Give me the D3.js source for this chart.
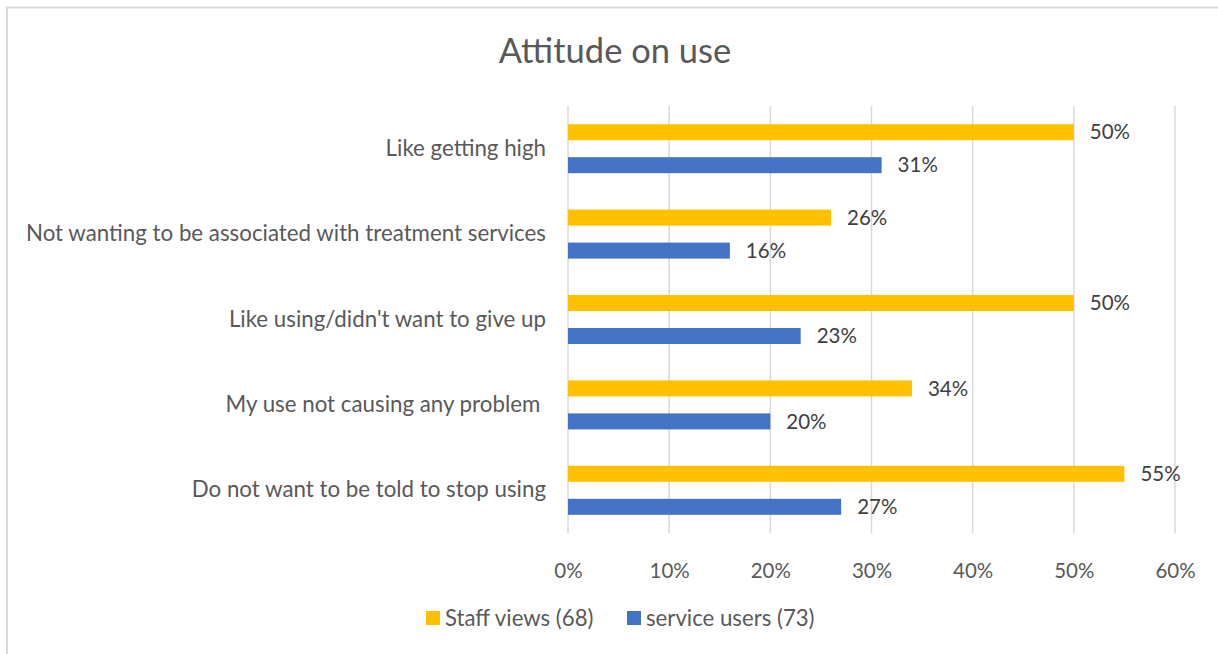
<!DOCTYPE html>
<html>
<head>
<meta charset="utf-8">
<script src="https://cdn.jsdelivr.net/npm/d3@7"></script>
<style>
  html, body { margin: 0; padding: 0; background: #fff; }
  svg { display: block; font-family: Lato, "Open Sans", sans-serif; }
</style>
</head>
<body>
<div id="chart"></div>
<script>
// chart data
const categories = [
    "Like getting high",
    "Not wanting to be associated with treatment services",
    "Like using/didn't want to give up",
    "My use not causing any problem ",
    "Do not want to be told to stop using"
];
const seriesNames = ["Staff views (68)", "service users (73)"];
const staffViews = [0.50, 0.26, 0.50, 0.34, 0.55];
const serviceUsers = [0.31, 0.16, 0.23, 0.20, 0.27];
const xTicks = [0, 0.1, 0.2, 0.3, 0.4, 0.5, 0.6];
const colors = ["#FFC000", "#4472C4"];

const width = 1218, height = 654;
const margin = { top: 106, left: 568, right: 43, bottom: 121 };

const svg = d3.select("#chart").append("svg")
    .attr("width", width)
    .attr("height", height);

// chart border (only left/top edges visible in the frame)
svg.append("rect")
    .attr("x", 7).attr("y", 7.5)
    .attr("width", 1240).attr("height", 700)
    .attr("fill", "none")
    .attr("stroke", "#d9d9d9")
    .attr("stroke-width", 2);

// title
svg.append("text")
    .attr("x", 615).attr("y", 63)
    .attr("text-anchor", "middle")
    .attr("fill", "#595959")
    .style("font-size", "34.5px")
    .text("Attitude on use");

let x = d3.scaleLinear()
    .domain([0, 0.6])
    .range([margin.left, width - margin.right]);

let y = d3.scaleBand()
    .domain(categories)
    .range([margin.top, height - margin.bottom]);

// two bars per category, with a gap between them
let sub = d3.scaleBand()
    .domain(seriesNames)
    .range([0, y.bandwidth()])
    .paddingInner(17 / 33)
    .paddingOuter((y.bandwidth() - 66) / 66 + 17 / 66);

// gridlines
svg.append("g")
    .selectAll("line")
    .data(xTicks)
    .enter().append("line")
    .attr("x1", d => x(d)).attr("x2", d => x(d))
    .attr("y1", margin.top).attr("y2", height - margin.bottom)
    .attr("stroke", "#d9d9d9")
    .attr("stroke-width", 1.5);

// x axis tick labels
let xAxis = d3.axisBottom(x)
    .tickValues(xTicks)
    .tickFormat(d3.format(".0%"))
    .tickSize(0)
    .tickPadding(0);

let gx = svg.append("g")
    .attr("transform", "translate(0," + (height - margin.bottom + 38) + ")")
    .call(xAxis);
gx.select(".domain").remove();
gx.selectAll("text")
    .attr("fill", "#595959")
    .attr("dy", "0.35em")
    .style("font-family", "Lato, sans-serif")
    .style("font-size", "20.5px");

// category labels (keep the trailing space of one label)
let yAxis = d3.axisLeft(y).tickSize(0).tickPadding(22);
let gy = svg.append("g")
    .attr("transform", "translate(" + margin.left + ",0)")
    .call(yAxis);
gy.select(".domain").remove();
gy.selectAll("text")
    .attr("fill", "#595959")
    .style("white-space", "pre")
    .style("font-family", "Lato, sans-serif")
    .style("font-size", "22.3px");

// bars
let rows = categories.map(function (c, i) {
    return { category: c, values: [staffViews[i], serviceUsers[i]] };
});

let group = svg.append("g")
    .selectAll("g")
    .data(rows)
    .enter().append("g")
    .attr("transform", d => "translate(0," + y(d.category) + ")");

let bar = group.selectAll("g")
    .data(d => d.values.map(function (v, j) { return { name: seriesNames[j], value: v, idx: j }; }))
    .enter().append("g");

bar.append("rect")
    .attr("x", x(0))
    .attr("y", d => sub(d.name))
    .attr("width", d => x(d.value) - x(0))
    .attr("height", sub.bandwidth())
    .attr("fill", d => colors[d.idx]);

bar.append("text")
    .attr("x", d => x(d.value) + 16)
    .attr("y", d => sub(d.name) + sub.bandwidth() / 2)
    .attr("dy", "0.35em")
    .attr("fill", "#404040")
    .style("font-size", "20.5px")
    .text(d => d3.format(".0%")(d.value));

// legend
let legend = svg.append("g")
    .selectAll("g")
    .data(seriesNames)
    .enter().append("g")
    .attr("transform", (d, i) => "translate(" + [426, 627][i] + ",611)");

legend.append("rect")
    .attr("width", 14).attr("height", 14)
    .attr("fill", (d, i) => colors[i]);

legend.append("text")
    .attr("x", 19).attr("y", 7)
    .attr("dy", "0.35em")
    .attr("fill", "#595959")
    .style("font-size", "22.2px")
    .text(d => d);
</script>
</body>
</html>
